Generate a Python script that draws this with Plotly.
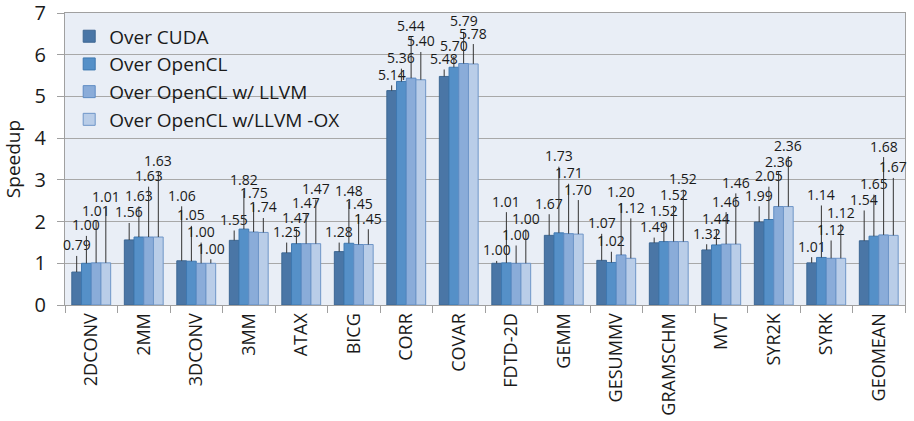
import plotly.graph_objects as go

categories = ["2DCONV", "2MM", "3DCONV", "3MM", "ATAX", "BICG", "CORR", "COVAR",
              "FDTD-2D", "GEMM", "GESUMMV", "GRAMSCHM", "MVT", "SYR2K", "SYRK", "GEOMEAN"]

series_names = ["Over CUDA", "Over OpenCL", "Over OpenCL w/ LLVM", "Over OpenCL w/LLVM -OX"]

over_cuda = [0.79, 1.56, 1.06, 1.55, 1.25, 1.28, 5.14, 5.48, 1.00, 1.67, 1.07, 1.49, 1.32, 1.99, 1.01, 1.54]
over_opencl = [1.00, 1.63, 1.05, 1.82, 1.47, 1.48, 5.36, 5.70, 1.01, 1.73, 1.02, 1.52, 1.44, 2.05, 1.14, 1.65]
over_llvm = [1.01, 1.63, 1.00, 1.75, 1.47, 1.45, 5.44, 5.79, 1.00, 1.71, 1.20, 1.52, 1.46, 2.36, 1.12, 1.68]
over_llvm_ox = [1.01, 1.63, 1.00, 1.74, 1.47, 1.45, 5.40, 5.78, 1.00, 1.70, 1.12, 1.52, 1.46, 2.36, 1.12, 1.67]

y_ticks = [0, 1, 2, 3, 4, 5, 6, 7]

# label placement heights (in axis units) for the staggered data labels
label_y_cuda = [1.44, 2.23, 2.63, 2.05, 1.76, 1.76, 5.53, 5.91, 1.32, 2.44, 1.97, 1.88, 1.72, 2.63, 1.41, 2.53]
label_y_opencl = [1.92, 2.63, 2.16, 3.01, 2.09, 2.74, 5.93, 6.23, 2.49, 3.58, 1.54, 2.26, 2.08, 3.10, 2.65, 2.91]
label_y_llvm = [2.27, 3.10, 1.76, 2.69, 2.45, 2.44, 6.70, 6.81, 1.69, 3.17, 2.71, 2.65, 2.49, 3.45, 1.81, 3.81]
label_y_ox = [2.59, 3.47, 1.36, 2.35, 2.79, 2.08, 6.33, 6.52, 2.08, 2.78, 2.34, 3.03, 2.94, 3.83, 2.21, 3.31]

colors = ["#4a76a6", "#5590c8", "#8aacd9", "#b9cde8"]
line_colors = ["#3d6793", "#3f78b0", "#5f8cc4", "#6f96c8"]

values = [over_cuda, over_opencl, over_llvm, over_llvm_ox]
label_ys = [label_y_cuda, label_y_opencl, label_y_llvm, label_y_ox]

FONT = "Open Sans"
TXT = "#1a1a1a"
BARGAP = 0.26

fig = go.Figure()
for name, vals, c, lc in zip(series_names, values, colors, line_colors):
    fig.add_trace(go.Bar(
        x=categories, y=vals, name=name,
        marker=dict(color=c, line=dict(color=lc, width=1)),
    ))

n = len(series_names)
bw = (1 - BARGAP) / n
annotations = []
for s in range(n):
    off = -(1 - BARGAP) / 2 + (s + 0.5) * bw
    for i, v in enumerate(values[s]):
        xp = i + off
        annotations.append(dict(
            x=xp, y=v, xref="x", yref="y",
            ax=xp, ay=label_ys[s][i], axref="x", ayref="y",
            text=f"{v:.2f}", showarrow=True, arrowhead=0, arrowwidth=1,
            arrowcolor="#333333", standoff=0, startstandoff=0,
            font=dict(family=FONT, size=14, color=TXT),
        ))

fig.update_layout(
    width=914, height=421,
    margin=dict(l=65, r=9, t=13, b=116),
    barmode="group", bargap=BARGAP, bargroupgap=0,
    plot_bgcolor="#e9eef6", paper_bgcolor="white",
    font=dict(family=FONT, color=TXT),
    showlegend=True,
    legend=dict(x=0.005, y=0.985, xanchor="left", yanchor="top",
                bgcolor="rgba(0,0,0,0)", font=dict(family=FONT, size=19, color=TXT)),
    annotations=annotations,
)
fig.update_xaxes(
    type="category", tickangle=-90, tickson="boundaries",
    ticks="outside", ticklen=7, tickcolor="#a0a0a0",
    showline=True, linecolor="#a0a0a0", mirror=True, automargin=False,
    tickfont=dict(family=FONT, size=18, color=TXT),
    range=[-0.5, len(categories) - 0.5],
)
fig.update_yaxes(
    range=[0, 7.001], tickmode="array", tickvals=y_ticks,
    showgrid=True, gridcolor="#a8a8a8", gridwidth=1,
    ticks="outside", ticklen=7, tickcolor="#a0a0a0",
    showline=True, linecolor="#a0a0a0", mirror=True, zeroline=False,
    automargin=False, ticklabeloverflow="allow", ticklabelstandoff=7,
    tickfont=dict(family=FONT, size=20, color=TXT),
    title=dict(text="Speedup", font=dict(family=FONT, size=19, color=TXT), standoff=14),
)

fig.write_html("out.html")
